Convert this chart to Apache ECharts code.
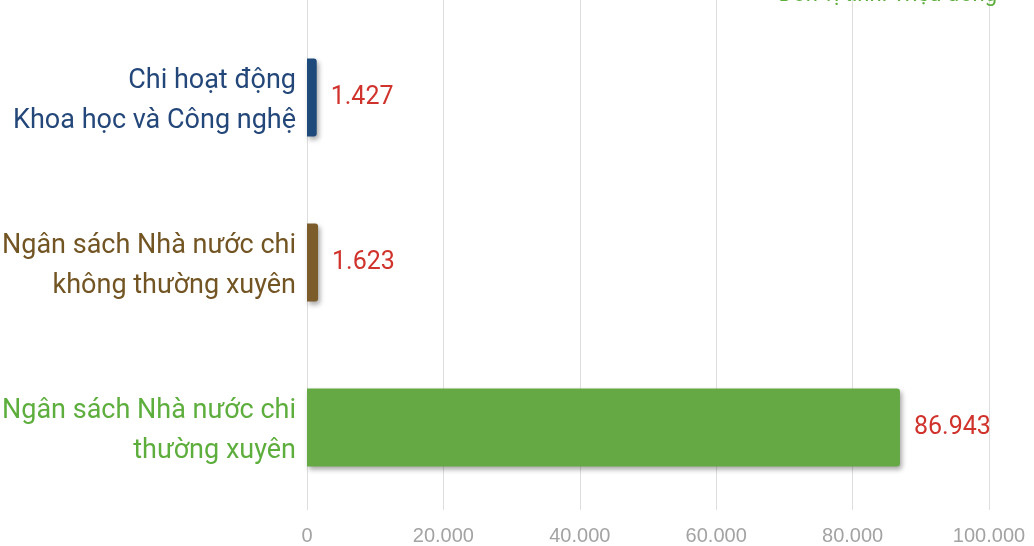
<!DOCTYPE html>
<html>
<head>
<meta charset="utf-8">
<script src="https://cdn.jsdelivr.net/npm/echarts@6/dist/echarts.min.js"></script>
<style>
  html, body { margin: 0; padding: 0; background: #fff; }
  #chart { width: 1034px; height: 546px; }
</style>
</head>
<body>
<div id="chart"></div>
<script>
// Spending categories, listed bottom to top as drawn on the category axis
const categories = [
  'Ngân sách Nhà nước chi\nthường xuyên',
  'Ngân sách Nhà nước chi\nkhông thường xuyên',
  'Chi hoạt động\nKhoa học và Công nghệ'
];
// Amounts in million VND
const values = [86943, 1623, 1427];
const barColors = ['#64a943', '#7b5c2a', '#1e4a7b'];
const labelColors = ['#5eae3e', '#735524', '#24477a'];
const unitText = 'Đơn vị tính: Triệu đồng';

const FONT = 'Roboto, "Liberation Sans", sans-serif';

// Vietnamese-style thousands separator
function fmt(v) {
  return String(v).replace(/\B(?=(\d{3})+(?!\d))/g, '.');
}

// Category label: a thin spacer line on top nudges the two text lines down a little
function catLabel(value, index) {
  const style = 'c' + index;
  return '{s| }\n' + value.split('\n').map(function (l) {
    return '{' + style + '|' + l + '}';
  }).join('\n');
}

const rich = { s: { fontSize: 1, lineHeight: 8 } };
labelColors.forEach(function (c, i) {
  rich['c' + i] = { color: c, fontFamily: FONT, fontSize: 27, lineHeight: 40, align: 'right' };
});

const chart = echarts.init(document.getElementById('chart'), null, { renderer: 'canvas' });

chart.setOption({
  animation: false,
  backgroundColor: '#ffffff',
  title: {
    text: unitText,
    right: 32,
    top: -21,
    textStyle: { color: '#5eae3e', fontFamily: FONT, fontSize: 22, fontWeight: 'normal' }
  },
  grid: {
    left: 307, right: 45, top: 15, bottom: 36,
    containLabel: false,
    outerBoundsMode: 'none'
  },
  xAxis: [{
    type: 'value',
    min: 0,
    max: 100000,
    interval: 20000,
    position: 'bottom',
    axisLine: { show: false },
    axisTick: { show: false },
    splitLine: { show: true, lineStyle: { color: '#dedede', width: 1 } },
    axisLabel: {
      color: '#a3a3a3',
      fontFamily: '"Liberation Sans", sans-serif',
      fontSize: 20,
      margin: 16,
      formatter: fmt
    }
  }, {
    // Top axis only extends the vertical rules up to the edge of the canvas
    type: 'value',
    min: 0,
    max: 100000,
    interval: 20000,
    position: 'top',
    axisLine: { show: false },
    axisTick: { show: true, length: 16, lineStyle: { color: '#dedede', width: 1 } },
    axisLabel: { show: false },
    splitLine: { show: false }
  }],
  yAxis: {
    type: 'category',
    data: categories,
    axisLine: { show: true, lineStyle: { color: '#dedede', width: 1 } },
    axisTick: { show: false },
    axisLabel: {
      margin: 11,
      align: 'right',
      formatter: catLabel,
      rich: rich
    }
  },
  series: [{
    type: 'bar',
    xAxisIndex: 0,
    data: values.map(function (v, i) {
      return { value: v, itemStyle: { color: barColors[i] } };
    }),
    barWidth: 78,
    itemStyle: {
      borderRadius: [0, 3, 3, 0],
      shadowColor: 'rgba(0,0,0,0.35)',
      shadowBlur: 5,
      shadowOffsetX: 2,
      shadowOffsetY: 3
    },
    label: {
      show: true,
      position: 'right',
      distance: 14,
      color: '#d0332c',
      fontFamily: FONT,
      fontSize: 25,
      formatter: function (p) { return fmt(p.value); }
    }
  }]
});
</script>
</body>
</html>
